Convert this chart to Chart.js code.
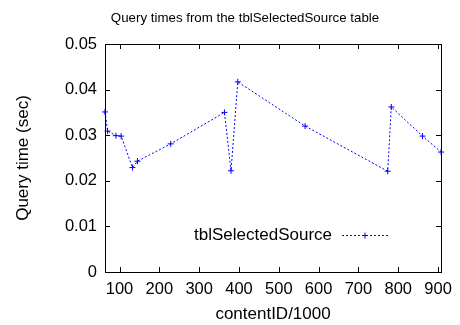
<!DOCTYPE html>
<html>
<head>
<meta charset="utf-8">
<script src="https://cdn.jsdelivr.net/npm/chart.js@4"></script>
<style>
  html, body { margin: 0; padding: 0; background: #fff; }
  #wrap { width: 460px; height: 325px; }
</style>
</head>
<body>
<div id="wrap"><canvas id="chartCanvas" width="460" height="325"></canvas></div>
<script>
// --- data ---
const contentIds = [63.5, 70, 91, 104, 132.5, 145, 228.5, 363.5, 380, 397, 566, 773.5, 782.5, 861, 907.5];
const queryTimes = [0.0351, 0.0309, 0.0299, 0.0298, 0.0229, 0.0243, 0.0281, 0.0350, 0.0222, 0.0417, 0.0320, 0.0221, 0.0362, 0.0298, 0.0263];
const seriesLabel = "tblSelectedSource";
const chartTitle = "Query times from the tblSelectedSource table";
const xTitle = "contentID/1000";
const yTitle = "Query time (sec)";

const FONT = "'Liberation Sans', Arial, Helvetica, sans-serif";
const BLUE = "#0000ff";

// gnuplot-ish frame: box, inward mirrored ticks, title and key inside plot
const gnuFrame = {
  id: "gnuFrame",
  afterDraw(chart) {
    const { ctx, chartArea: a, scales } = chart;
    const tl = 5;
    ctx.save();
    ctx.strokeStyle = "#000";
    ctx.lineWidth = 1;
    ctx.setLineDash([]);
    ctx.strokeRect(Math.round(a.left) + 0.5, Math.round(a.top) + 0.5,
      Math.round(a.right - a.left), Math.round(a.bottom - a.top));
    ctx.beginPath();
    scales.x.ticks.forEach(t => {
      const px = Math.round(scales.x.getPixelForValue(t.value)) + 0.5;
      ctx.moveTo(px, a.bottom); ctx.lineTo(px, a.bottom - tl);
      ctx.moveTo(px, a.top); ctx.lineTo(px, a.top + tl);
    });
    scales.y.ticks.forEach(t => {
      const py = Math.round(scales.y.getPixelForValue(t.value)) + 0.5;
      ctx.moveTo(a.left, py); ctx.lineTo(a.left + tl, py);
      ctx.moveTo(a.right, py); ctx.lineTo(a.right - tl, py);
    });
    ctx.stroke();

    // title
    ctx.fillStyle = "#000";
    ctx.font = "13.3px " + FONT;
    ctx.textAlign = "center";
    ctx.textBaseline = "alphabetic";
    ctx.fillText(chartTitle, 245, 21.5);

    // key
    const ds = chart.data.datasets[0];
    const ky = 235.5;
    ctx.font = "17px " + FONT;
    ctx.textAlign = "right";
    ctx.textBaseline = "middle";
    ctx.fillText(ds.label, 332, ky);
    ctx.strokeStyle = BLUE;
    ctx.setLineDash([2, 2]);
    ctx.beginPath();
    ctx.moveTo(342, ky); ctx.lineTo(388, ky);
    ctx.stroke();
    ctx.setLineDash([]);
    ctx.beginPath();
    ctx.moveTo(362, ky); ctx.lineTo(368, ky);
    ctx.moveTo(365, ky - 3); ctx.lineTo(365, ky + 3);
    ctx.stroke();
    ctx.restore();
  }
};

const canvas = document.getElementById("chartCanvas");

new Chart(canvas, {
  type: "line",
  data: {
    datasets: [{
      label: seriesLabel,
      data: contentIds.map((x, i) => ({ x, y: queryTimes[i] })),
      borderColor: BLUE,
      backgroundColor: BLUE,
      borderWidth: 1,
      borderDash: [2, 2],
      pointStyle: "cross",
      pointRadius: 3,
      pointBorderWidth: 1,
      pointBorderColor: BLUE,
      tension: 0,
      fill: false,
      clip: false
    }]
  },
  options: {
    responsive: false,
    animation: false,
    layout: { padding: { top: 44, right: 17, left: 0, bottom: 0 } },
    plugins: {
      legend: { display: false },
      title: { display: false },
      tooltip: { enabled: false }
    },
    scales: {
      x: {
        type: "linear",
        min: Math.min(...contentIds),
        max: Math.max(...contentIds),
        grid: { display: false, drawTicks: false },
        border: { display: false },
        afterFit: s => { s.height = 53; },
        ticks: {
          stepSize: 100,
          includeBounds: false,
          padding: 8,
          maxRotation: 0,
          color: "#000",
          font: { family: FONT, size: 16.5 }
        },
        title: {
          display: true,
          text: xTitle,
          color: "#000",
          padding: { top: 0, bottom: 0 },
          font: { family: FONT, size: 17 }
        }
      },
      y: {
        min: 0,
        max: 0.05,
        grid: { display: false, drawTicks: false },
        border: { display: false },
        afterFit: s => { s.width = 105; },
        ticks: {
          stepSize: 0.01,
          padding: 8,
          color: "#000",
          font: { family: FONT, size: 16.5 }
        },
        title: {
          display: true,
          text: yTitle,
          color: "#000",
          padding: { top: 13, bottom: 0 },
          font: { family: FONT, size: 17 }
        }
      }
    }
  },
  plugins: [gnuFrame]
});
</script>
</body>
</html>
